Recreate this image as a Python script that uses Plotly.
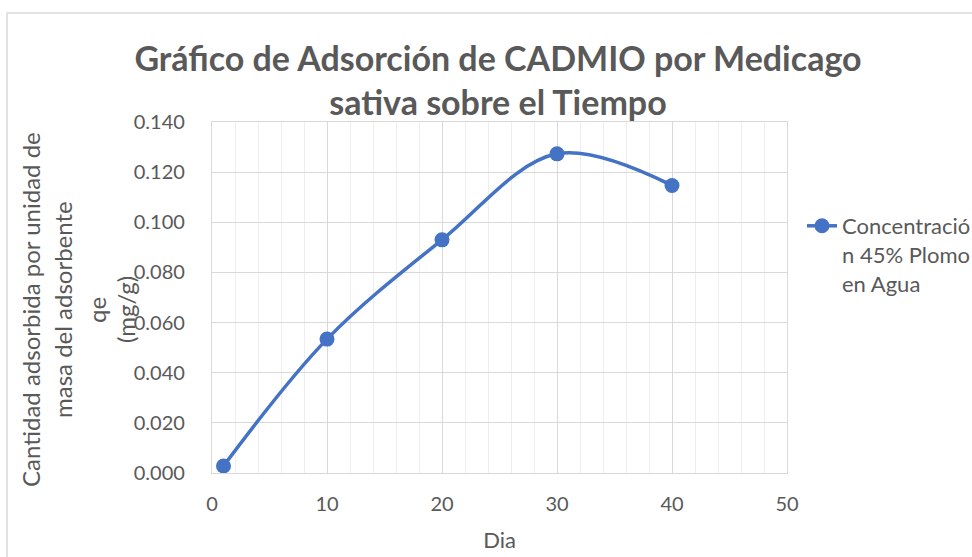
import plotly.graph_objects as go

dias = [1, 10, 20, 30, 40]
qe = [0.0028, 0.0534, 0.0930, 0.1273, 0.1147]
serie_nombre = "Concentració<br>n 45% Plomo<br>en Agua"
titulo = "Gráfico de Adsorción de CADMIO por Medicago<br>sativa sobre el Tiempo"
y_titulo_lineas = ["Cantidad adsorbida por unidad de", "masa del adsorbente", "qe", "(mg/g)"]
x_titulo = "Dia"

W, H = 972, 557
OFF = 0  # body margin removed via post_script
# plot area in page pixels
PL, PR, PT, PB = 212, 787, 122, 473
L, R, T, B = PL - OFF, W - (PR - OFF), PT - OFF, H - (PB - OFF)
pw, ph = W - L - R, H - T - B

def px_x(p):
    return (p - OFF - L) / pw

def px_y(p):
    return (H - B - (p - OFF)) / ph

FONT = "Lato"
GREY = "#595959"
BLUE = "#4472C4"

fig = go.Figure()
fig.add_trace(go.Scatter(
    x=dias, y=qe, mode="lines+markers", name=serie_nombre,
    line=dict(color=BLUE, width=3.5, shape="spline", smoothing=1.0),
    marker=dict(color=BLUE, size=15),
))

fig.update_layout(
    width=W, height=H,
    margin=dict(l=L, r=R, t=T, b=B, autoexpand=False),
    paper_bgcolor="white", plot_bgcolor="white",
    font=dict(family=FONT, color=GREY, size=20),
    title=dict(text=titulo, x=px_x(498), xref="paper", xanchor="center",
               y=1 - (71 - OFF) / H, yanchor="middle",
               font=dict(family=FONT, size=34, color=GREY, weight="bold")),
    showlegend=True,
    legend=dict(x=px_x(802), y=px_y(205), xanchor="left", yanchor="top",
                valign="top", font=dict(size=22, color=GREY),
                bgcolor="rgba(0,0,0,0)", tracegroupgap=0),
    xaxis=dict(range=[0, 50], dtick=10, tick0=0,
               showgrid=True, gridcolor="#d9d9d9", gridwidth=1.3,
               minor=dict(dtick=2, showgrid=True, gridcolor="#eeeeee", gridwidth=1),
               showline=True, linecolor="#d9d9d9", linewidth=1.3, mirror=True,
               zeroline=False, ticks="", ticklabelstandoff=13,
               tickfont=dict(size=20, color=GREY),
               title=dict(text=x_titulo, font=dict(size=22, color=GREY), standoff=18)),
    yaxis=dict(range=[0, 0.14], dtick=0.02, tick0=0, tickformat=".3f",
               showgrid=True, gridcolor="#d9d9d9", gridwidth=1.3,
               showline=True, linecolor="#d9d9d9", linewidth=1.3, mirror=True,
               zeroline=False, ticks="", ticklabelstandoff=22,
               tickfont=dict(size=20, color=GREY)),
)

xs = [30, 62, 96, 125]
for xp, txt in zip(xs, y_titulo_lineas):
    fig.add_annotation(text=txt, xref="paper", yref="paper", x=px_x(xp), y=px_y(310),
                       xanchor="center", yanchor="middle", textangle=-90, showarrow=False,
                       font=dict(family=FONT, size=24, color=GREY))

# chart area border (top and left visible)
fig.add_shape(type="rect", xref="paper", yref="paper",
              x0=px_x(7), x1=px_x(W + 40), y0=px_y(H + 40), y1=px_y(13),
              line=dict(color="#d9d9d9", width=1.5), fillcolor="rgba(0,0,0,0)", layer="below")

fig.write_html("out.html", config={"displayModeBar": False},
               post_script="document.body.style.margin='0';document.body.style.overflow='hidden';")
